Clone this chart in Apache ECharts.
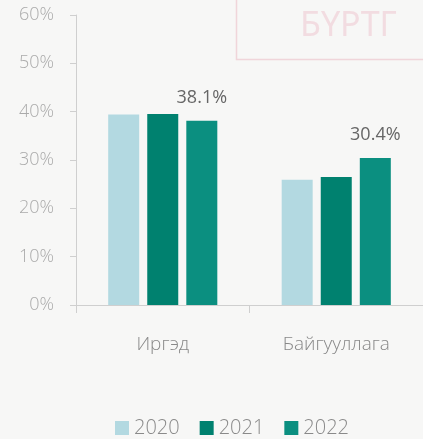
<!DOCTYPE html>
<html>
<head>
<meta charset="utf-8">
<script src="https://cdn.jsdelivr.net/npm/echarts@6/dist/echarts.min.js"></script>
<style>
  html, body { margin: 0; padding: 0; background: #f7f7f6; }
  #chart { width: 423px; height: 439px; }
</style>
</head>
<body>
<div id="chart"></div>
<script>
// Share by customer type, per year (%)
const categories = ['Иргэд', 'Байгууллага'];
const years = ['2020', '2021', '2022'];
const values2020 = [39.4, 25.9];
const values2021 = [39.5, 26.5];
const values2022 = [38.1, 30.4];
const yTicks = [0, 10, 20, 30, 40, 50, 60];

const colors = ['#b3d9e1', '#00816f', '#0b8f80'];
const font = '"Open Sans", "Noto Sans", sans-serif';

const seriesValues = [values2020, values2021, values2022];

const chart = echarts.init(document.getElementById('chart'), null, { renderer: 'canvas' });

chart.setOption({
  backgroundColor: '#f7f7f6',
  animation: false,
  // plot area runs past the right edge of the canvas
  grid: { left: 76, width: 352, top: 15, bottom: 134, containLabel: false },
  legend: {
    data: years,
    left: 110,
    top: 413,
    itemWidth: 14,
    itemHeight: 14,
    itemGap: 20,
    icon: 'rect',
    textStyle: { fontFamily: font, fontSize: 20, fontWeight: 300, color: '#8a8a8a' }
  },
  xAxis: {
    type: 'category',
    data: categories,
    axisLine: { lineStyle: { color: '#cfcfcf', width: 1 } },
    axisTick: { show: true, length: 8, lineStyle: { color: '#cfcfcf' } },
    axisLabel: { margin: 30, fontFamily: font, fontSize: 19, fontWeight: 300, color: '#888' }
  },
  yAxis: {
    type: 'value',
    min: yTicks[0],
    max: yTicks[yTicks.length - 1],
    interval: 10,
    axisLine: { show: true, lineStyle: { color: '#cfcfcf', width: 1 } },
    axisTick: { show: true, length: 6, lineStyle: { color: '#cfcfcf' } },
    splitLine: { show: false },
    axisLabel: {
      margin: 22,
      fontFamily: font, fontSize: 18, fontWeight: 300, color: '#aaa',
      formatter: v => v + '%'
    }
  },
  series: years.map((y, i) => ({
    name: y,
    type: 'bar',
    data: seriesValues[i].map((v, j) => ({
      value: v,
      // value labels on the 2022 bars only
      label: i === 2 ? {
        show: true, position: 'top', distance: 14,
        formatter: v.toFixed(1) + '%',
        fontFamily: font, fontSize: 18, color: '#666'
      } : { show: false }
    })),
    barWidth: 31,
    barGap: '26%',
    itemStyle: { color: colors[i] }
  })),
  graphic: [
    {
      type: 'rect',
      left: 234, top: -6,
      shape: { width: 200, height: 63 },
      style: { fill: 'none', stroke: 'rgba(225,150,165,0.35)', lineWidth: 1.5 },
      silent: true
    },
    {
      type: 'text',
      left: 300, top: 9,
      style: {
        text: 'БҮРТГ',
        font: '34px "Noto Sans", sans-serif',
        fill: 'rgba(232,160,175,0.3)'
      },
      silent: true
    }
  ]
});
</script>
</body>
</html>
